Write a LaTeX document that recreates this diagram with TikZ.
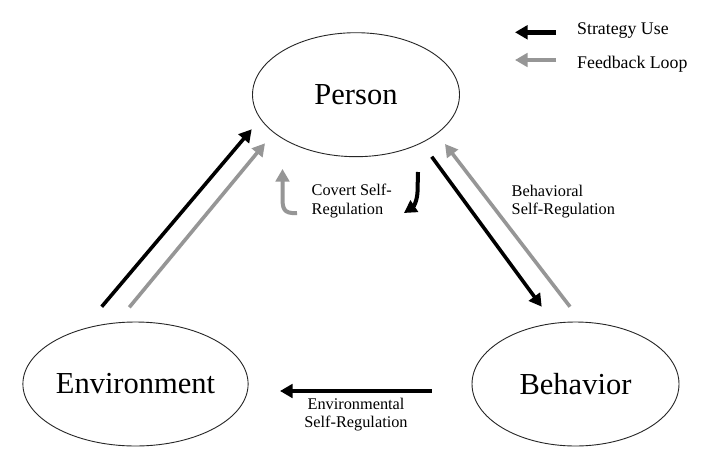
\documentclass[tikz,border=0pt]{standalone}
\usepackage{fontspec}
\setmainfont{Liberation Serif}
\usetikzlibrary{arrows.meta,shapes.geometric}
\definecolor{fbgray}{RGB}{150,150,150}
\begin{document}
\begin{tikzpicture}[x=1pt,y=-1pt,
  agent/.style={draw=black!85, line width=0.9pt, ellipse, inner sep=0pt,
    minimum width=207pt, minimum height=124pt,
    font=\fontsize{30.5}{32}\selectfont},
  strat/.style={draw=black, line width=3.6pt, -{Triangle[length=12.5pt,width=13.5pt]}},
  feed/.style={draw=fbgray, line width=3.6pt, -{Triangle[length=12.5pt,width=13.5pt]}},
  lbl/.style={font=\fontsize{16.3}{18.5}\selectfont, inner sep=0pt},
  legtext/.style={font=\fontsize{17.8}{19}\selectfont, inner sep=0pt, anchor=west}
]
\fill[white] (0,0) rectangle (706,455);
\useasboundingbox (0,0) rectangle (706,455);

% the three agents of the triad
\node[agent] (person) at (356,94.7) {Person};
\node[agent] (env) at (135.5,384) {Environment};
\node[agent] (behav) at (575.5,384) {Behavior};

% end points of the connectors
\coordinate (envS1) at (101.7,306.7);
\coordinate (perT1) at (251.7,129.3);
\coordinate (envS2) at (129.3,307.3);
\coordinate (perT2) at (265,143.3);
\coordinate (perS3) at (431.7,156.7);
\coordinate (behT3) at (541.7,306.7);
\coordinate (behS4) at (570,306.7);
\coordinate (perT4) at (445,144);
\coordinate (behS5) at (431.7,391);
\coordinate (envT5) at (280,391);

% environment -> person
\draw[strat] (envS1) -- (perT1);
\draw[feed] (envS2) -- (perT2);
% person <-> behavior
\draw[strat] (perS3) -- (behT3);
\draw[feed] (behS4) -- (perT4);
% behavior -> environment
\draw[strat] (behS5) -- (envT5);

% covert self-regulation loop
\coordinate (covS1) at (297,213);
\coordinate (covT1) at (282.5,169);
\draw[feed, line width=4pt] (covS1) .. controls (283,214) and (282.5,208) .. (282.5,197) -- (covT1);
\coordinate (covS2) at (418,172);
\coordinate (covT2) at (404,213);
\draw[strat, line width=4pt] (covS2) -- (417.5,192) .. controls (417,202) and (413,207) .. (covT2);

% labels
\node[lbl, anchor=west, align=left] (covlab) at (311.5,201) {Covert Self-\\Regulation};
\node[lbl, anchor=west, align=left] (behlab) at (511.5,201.5) {Behavioral\\Self-Regulation};
\node[lbl, align=center] (envlab) at (356,414.5) {Environmental\\Self-Regulation};

% legend
\coordinate (legS1) at (556,32.3);
\coordinate (legT1) at (515,32.3);
\coordinate (legS2) at (556,60);
\coordinate (legT2) at (515,60);
\draw[strat, line width=4.5pt] (legS1) -- (legT1);
\draw[feed, line width=4.5pt] (legS2) -- (legT2);
\node[legtext] (leg1) at (577,30.5) {Strategy Use};
\node[legtext] (leg2) at (577,64) {Feedback Loop};
\end{tikzpicture}
\end{document}
